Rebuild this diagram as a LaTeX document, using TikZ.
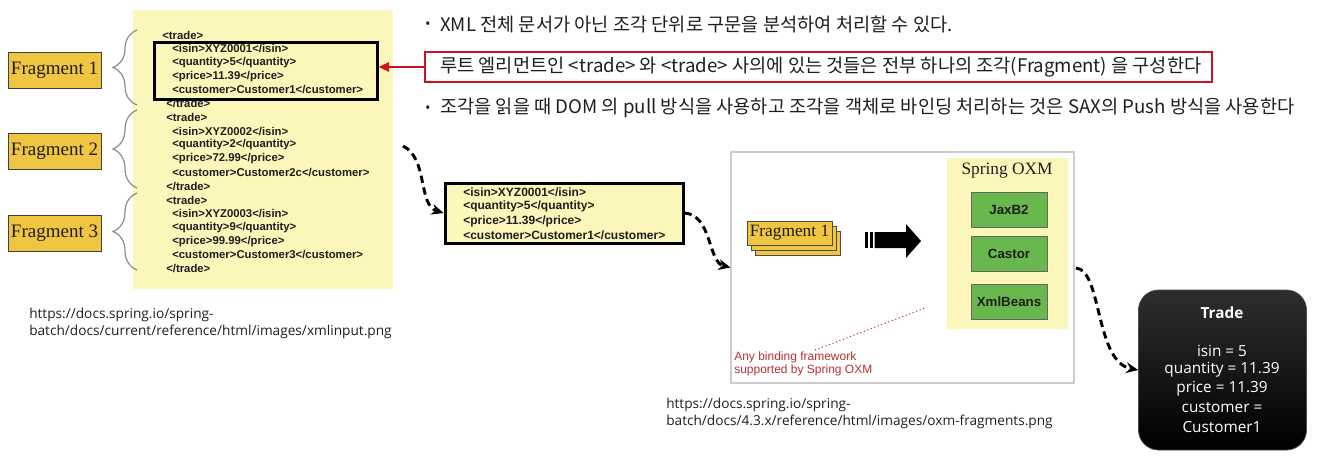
\documentclass[tikz,border=0pt]{standalone}
\usepackage{fontspec}
\setmainfont{Liberation Serif}
\newfontfamily\arialf{Liberation Sans}
\newfontfamily\krf{Noto Sans CJK KR}
\newfontfamily\osf{Open Sans}
\usetikzlibrary{arrows.meta,decorations.pathreplacing}
\definecolor{paneyellow}{HTML}{FBF7BA}
\definecolor{fraggold}{HTML}{F0C542}
\definecolor{oxmgreen}{HTML}{69B84E}
\definecolor{hlred}{HTML}{CC1122}
\definecolor{txtred}{HTML}{B8322E}
\definecolor{ink}{HTML}{1E1E1E}
\begin{document}
\begin{tikzpicture}[x=0.75pt,y=-0.75pt,
  xml/.style={anchor=west, inner sep=0, font=\arialf\bfseries\fontsize{8.5pt}{10pt}\selectfont, text=ink},
  xmlm/.style={anchor=west, inner sep=0, font=\arialf\bfseries\fontsize{9pt}{10pt}\selectfont, text=ink},
  fragbox/.style={draw=black!75, line width=0.6pt, fill=fraggold, inner sep=0, font=\fontsize{14.25pt}{16pt}\selectfont, text=ink, minimum width=69.75pt, minimum height=27pt},
  krtext/.style={anchor=west, inner sep=0, font=\krf\fontsize{14pt}{16pt}\selectfont, text=ink},
  bul/.style={inner sep=0, font=\krf\fontsize{10pt}{12pt}\selectfont, text=ink},
  urltext/.style={anchor=west, inner sep=0, font=\osf\fontsize{10.25pt}{12pt}\selectfont, text=ink},
  brc/.style={draw=black!45, line width=0.9pt, decorate, decoration={brace, amplitude=18pt}},
  dasharrow/.style={draw=black, line width=2.2pt, dash pattern=on 5.5pt off 3.5pt, -{Stealth[length=9pt,width=8pt]}},
  greenbox/.style={draw=black!60, line width=0.6pt, fill=oxmgreen, minimum width=57pt, minimum height=26.25pt, inner sep=0, font=\arialf\bfseries\fontsize{10pt}{12pt}\selectfont, text=ink},
  card/.style={draw=black!70, line width=0.6pt, fill=fraggold, minimum width=63.75pt, minimum height=18pt, inner sep=0, font=\fontsize{13pt}{15pt}\selectfont, text=ink},
  trtxt/.style={text=white, font=\osf\fontsize{11.5pt}{13pt}\selectfont, inner sep=0}
]
\useasboundingbox (0,0) rectangle (1317,464);

% ---------- left XML panel ----------
\node[fill=paneyellow, minimum width=195pt, minimum height=209.25pt, inner sep=0] (panel) at (263,149.5) {};

\node[xml] (x0)  at (162,35)     {<trade>};
\node[xml] (x1)  at (172,48.75)  {<isin>XYZ0001</isin>};
\node[xml] (x2)  at (172,62.5)   {<quantity>5</quantity>};
\node[xml] (x3)  at (172,76.25)  {<price>11.39</price>};
\node[xml] (x4)  at (172,90)     {<customer>Customer1</customer>};
\node[xml] (x5)  at (166,103.75) {</trade>};
\node[xml] (x6)  at (166,117.5)  {<trade>};
\node[xml] (x7)  at (172,131.25) {<isin>XYZ0002</isin>};
\node[xml] (x8)  at (172,145)    {<quantity>2</quantity>};
\node[xml] (x9)  at (172,158.75) {<price>72.99</price>};
\node[xml] (x10) at (172,172.5)  {<customer>Customer2c</customer>};
\node[xml] (x11) at (166,186.25) {</trade>};
\node[xml] (x12) at (166,200)    {<trade>};
\node[xml] (x13) at (172,213.75) {<isin>XYZ0003</isin>};
\node[xml] (x14) at (172,227.5)  {<quantity>9</quantity>};
\node[xml] (x15) at (172,241.25) {<price>99.99</price>};
\node[xml] (x16) at (172,255)    {<customer>Customer3</customer>};
\node[xml] (x17) at (166,268.75) {</trade>};

\node[draw=black, line width=2.25pt, minimum width=167.25pt, minimum height=42.75pt, inner sep=0] (hl) at (265.5,70.5) {};

% fragment labels and braces
\node[fragbox] (f1) at (54.5,70)    {Fragment 1};
\node[fragbox] (f2) at (54.5,151.5) {Fragment 2};
\node[fragbox] (f3) at (54.5,233.5) {Fragment 3};
\draw[brc] (137,105) -- (137,30);
\draw[brc] (137,188) -- (137,110);
\draw[brc] (137,270) -- (137,193);

% ---------- Korean text ----------
\node[bul] (bu1) at (428,25) {•};
\node[krtext] (k1) at (440,24) {XML 전체 문서가 아닌 조각 단위로 구문을 분석하여 처리할 수 있다.};
\node[draw=hlred, line width=2pt, minimum width=590.25pt, minimum height=22.5pt, inner sep=0] (rb) at (818.5,67) {};
\node[krtext] (k2) at (440,67) {루트 엘리먼트인 <trade> 와 <trade> 사의에 있는 것들은 전부 하나의 조각(Fragment) 을 구성한다};
\node[bul] (bu3) at (428,109) {•};
\node[krtext] (k3) at (440,108) {조각을 읽을 때 DOM 의 pull 방식을 사용하고 조각을 객체로 바인딩 처리하는 것은 SAX의 Push 방식을 사용한다};
\draw[hlred, line width=1.6pt, -{Triangle[length=8pt,width=7pt]}] (rb.west) -- (hl.east |- rb.west);

% ---------- middle fragment ----------
\node[draw=black, fill=paneyellow, line width=2.25pt, minimum width=178.5pt, minimum height=45pt, inner sep=0] (mb) at (564,213) {};
\node[xmlm] (m1) at (463,192.5) {<isin>XYZ0001</isin>};
\node[xmlm] (m2) at (463,206.8) {<quantity>5</quantity>};
\node[xmlm] (m3) at (463,221)   {<price>11.39</price>};
\node[xmlm] (m4) at (463,235.5) {<customer>Customer1</customer>};

% ---------- OXM panel ----------
\node[draw=black!20, fill=white, line width=0.8pt, minimum width=257.25pt, minimum height=173.25pt, inner sep=0] (oxm) at (902.5,267.5) {};
\node[fill=paneyellow, minimum width=90.75pt, minimum height=128.25pt, inner sep=0] (spy) at (1007.5,243.5) {};
\node[inner sep=0, font=\fontsize{13pt}{15pt}\selectfont, text=ink] (spt) at (1007,171) {Spring OXM};
\node[greenbox] (jx) at (1009,209.5) {JaxB2};
\node[greenbox] (cs) at (1009,253.5) {Castor};
\node[greenbox] (xb) at (1009,301.5) {XmlBeans};

\node[card] (c3) at (797.5,243) {};
\node[card] (c2) at (793.5,238) {};
\node[card] (c1) at (789.5,233) {Fragment 1};

\fill[black] (865,232) rectangle (867.5,248);
\fill[black] (869.5,232) rectangle (872.5,248);
\fill[black] (874.5,232) -- (906,232) -- (906,224) -- (921,241) -- (906,258) -- (906,248) -- (874.5,248) -- cycle;

\coordinate (d1) at (815,350);
\coordinate (d2) at (925,308);
\draw[txtred, dotted, line width=0.8pt] (d1) -- (d2);
\node[anchor=north west, inner sep=0, align=left, text=txtred, font=\arialf\fontsize{9pt}{9.75pt}\selectfont] (anyb) at (734,352) {Any binding framework\\supported by Spring OXM};

% ---------- Trade box ----------
\node[rounded corners=15pt, top color=black!82, bottom color=black, draw=black!70, line width=0.5pt, minimum width=126pt, minimum height=120pt, inner sep=0] (trade) at (1222.5,370) {};
\node[trtxt, font=\osf\bfseries\fontsize{11.5pt}{13pt}\selectfont] (tt) at (1222,313) {Trade};
\node[trtxt] (t1) at (1222,351) {isin = 5};
\node[trtxt] (t2) at (1222,370) {quantity = 11.39};
\node[trtxt] (t3) at (1222,388.5) {price = 11.39};
\node[trtxt] (t4) at (1222,408) {customer =};
\node[trtxt] (t5) at (1222,427) {Customer1};

% ---------- dashed connectors ----------
\coordinate (s1) at (403,146);
\draw[dasharrow] (s1) .. controls (428,158) and (418,205) .. (mb.west);
\draw[dasharrow] (mb.east) .. controls (712,215) and (708,262) .. (oxm.west);
\coordinate (s3) at (1076,268);
\draw[dasharrow] (s3) .. controls (1102,270) and (1095,362) .. (trade.west);

% ---------- URLs ----------
\node[urltext] (u1a) at (29,315) {https://docs.spring.io/spring-};
\node[urltext] (u1b) at (29,332) {batch/docs/current/reference/html/images/xmlinput.png};
\node[urltext] (u2a) at (666,405) {https://docs.spring.io/spring-};
\node[urltext] (u2b) at (666,422) {batch/docs/4.3.x/reference/html/images/oxm-fragments.png};
\end{tikzpicture}
\end{document}
